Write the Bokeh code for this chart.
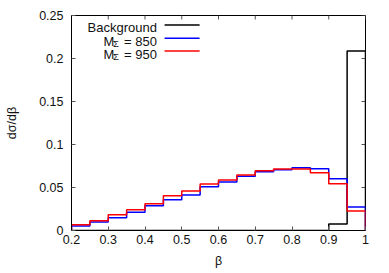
import math
from bokeh.plotting import figure
from bokeh.models import Range1d, FixedTicker, Label
from bokeh.embed import file_html
from bokeh.resources import INLINE

# ---- data ----
bin_edges = [0.2, 0.25, 0.3, 0.35, 0.4, 0.45, 0.5, 0.55, 0.6, 0.65, 0.7, 0.75,
             0.8, 0.85, 0.9, 0.95, 1.0]
background = [0, 0, 0, 0, 0, 0, 0, 0, 0, 0, 0, 0, 0, 0, 0.0076, 0.2087]
m850 = [0.0052, 0.0099, 0.0149, 0.0212, 0.0288, 0.0358, 0.0413, 0.0510, 0.0564,
        0.0630, 0.0684, 0.0707, 0.0730, 0.0719, 0.0602, 0.0273]
m950 = [0.0067, 0.0114, 0.0184, 0.0242, 0.0312, 0.0405, 0.0459, 0.0540, 0.0587,
        0.0645, 0.0696, 0.0715, 0.0715, 0.0672, 0.0544, 0.0227]
x_ticks = [0.2, 0.3, 0.4, 0.5, 0.6, 0.7, 0.8, 0.9, 1.0]
x_tick_labels = ["0.2", "0.3", "0.4", "0.5", "0.6", "0.7", "0.8", "0.9", "1"]
y_ticks = [0, 0.05, 0.1, 0.15, 0.2, 0.25]
y_tick_labels = ["0", "0.05", "0.1", "0.15", "0.2", "0.25"]
series_names = ["Background", "850", "950"]
series_colors = ["#000000", "#0000ff", "#ff0000"]

FONT = "Liberation Sans"
TICK_FS = "12.5px"
LEG_FS = "13px"
XMIN, XMAX = 0.2, 1.0
YMIN, YMAX = 0.0, 0.25

p = figure(width=389, height=273, output_backend="svg",
           toolbar_location=None, x_range=Range1d(XMIN, XMAX), y_range=Range1d(YMIN, YMAX),
           min_border_left=71, min_border_top=15, min_border_right=24, min_border_bottom=43)
p.xgrid.visible = False
p.ygrid.visible = False
p.outline_line_color = "#000000"
p.outline_line_width = 1
p.background_fill_color = "white"
p.border_fill_color = "white"


def style_axis(ax, ticks, labels):
    ax.ticker = FixedTicker(ticks=ticks)
    ax.major_label_overrides = {t: l for t, l in zip(ticks, labels)}
    ax.major_tick_in = 4
    ax.major_tick_out = 0
    ax.minor_tick_in = 0
    ax.minor_tick_out = 0
    ax.major_tick_line_color = "#555555"
    ax.axis_line_color = "#000000"
    ax.major_label_text_font = FONT
    ax.major_label_text_font_size = TICK_FS
    ax.major_label_text_color = "#111111"
    ax.axis_label_text_font = FONT
    ax.axis_label_text_font_size = TICK_FS
    ax.axis_label_text_font_style = "normal"
    ax.axis_label_text_color = "#111111"


style_axis(p.xaxis[0], x_ticks, x_tick_labels)
style_axis(p.yaxis[0], y_ticks, y_tick_labels)
p.xaxis[0].major_label_standoff = 4
p.yaxis[0].major_label_standoff = 8
p.xaxis[0].axis_label = "β"
p.yaxis[0].axis_label = "dσ/dβ"
p.xaxis[0].axis_label_standoff = 7
p.yaxis[0].axis_label_standoff = 17

# mirrored ticks on the top and right frame edges
p.ray(x=x_ticks, y=[YMAX] * len(x_ticks), length=4, length_units="screen",
      angle=-math.pi / 2, line_color="#555555", line_width=1)
p.ray(x=[XMAX] * len(y_ticks), y=y_ticks, length=4, length_units="screen",
      angle=math.pi, line_color="#555555", line_width=1)

# histograms as steps, closed to zero at both ends
for vals, col in zip([background, m850, m950], series_colors):
    xs = [bin_edges[0]] + bin_edges
    ys = [0] + vals + [0]
    p.step(xs, ys, mode="after", line_color=col, line_width=1.5)

# ---- legend (gnuplot-like: right-aligned label, sample line on the right) ----
fx = lambda f: XMIN + f * (XMAX - XMIN)
fy = lambda f: YMIN + f * (YMAX - YMIN)
row_base = [0.943, 0.880, 0.820]
row_mid = [0.956, 0.894, 0.835]
text_right = 0.2905
line_l, line_r = 0.3166, 0.4357

p.add_layout(Label(x=fx(text_right), y=fy(row_base[0]), text=series_names[0],
                   text_align="right", text_baseline="alphabetic",
                   text_font=FONT, text_font_size=LEG_FS, text_color="#111111"))
for i, name in enumerate(series_names[1:], start=1):
    p.add_layout(Label(x=fx(0.1087), y=fy(row_base[i]), text="M",
                       text_align="left", text_baseline="alphabetic",
                       text_font=FONT, text_font_size=LEG_FS, text_color="#111111"))
    p.add_layout(Label(x=fx(0.1411), y=fy(row_base[i] - 0.012), text="Σ",
                       text_align="left", text_baseline="alphabetic",
                       text_font=FONT, text_font_size="9.5px", text_color="#111111"))
    p.add_layout(Label(x=fx(text_right), y=fy(row_base[i]), text="= " + name,
                       text_align="right", text_baseline="alphabetic",
                       text_font=FONT, text_font_size=LEG_FS, text_color="#111111"))
for i, col in enumerate(series_colors):
    p.segment(x0=[fx(line_l)], y0=[fy(row_mid[i])], x1=[fx(line_r)], y1=[fy(row_mid[i])],
              line_color=col, line_width=1.5)

open("out.html", "w").write(file_html(p, INLINE))
